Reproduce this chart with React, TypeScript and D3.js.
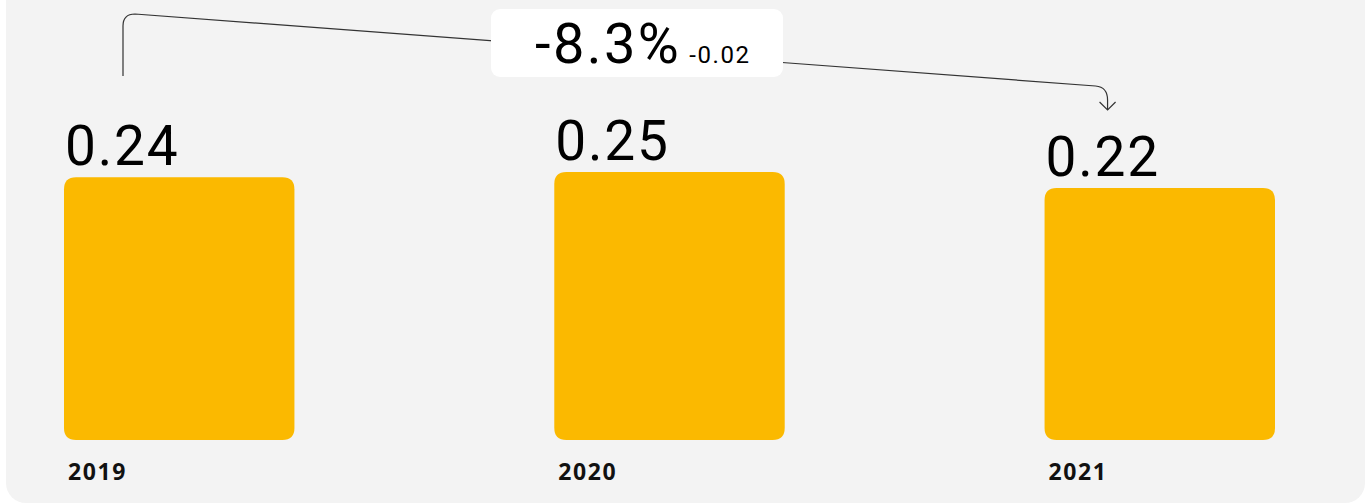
import React from "react";
import * as d3 from "d3";

const years = ["2019", "2020", "2021"];
const values = [0.24, 0.25, 0.22];
const valueLabels = ["0.24", "0.25", "0.22"];
const changePct = "-8.3%";
const changeAbs = "-0.02";

export default function App() {
  const W = 1371, H = 504;
  const x = d3.scaleBand<string>().domain(years).range([64, 1275]).paddingInner(0.53).paddingOuter(0);
  const y = d3.scaleLinear().domain([-0.25, 0.25]).range([440, 172]);
  const bw = x.bandwidth();
  const base = y(-0.25);

  const barPath = (x0: number, y0: number, w: number, h: number, r: number) =>
    `M${x0},${y0 + r}Q${x0},${y0} ${x0 + r},${y0}H${x0 + w - r}Q${x0 + w},${y0} ${x0 + w},${y0 + r}V${y0 + h - r}Q${x0 + w},${y0 + h} ${x0 + w - r},${y0 + h}H${x0 + r}Q${x0},${y0 + h} ${x0},${y0 + h - r}Z`;

  const sx = (x(years[0]) ?? 0) + 59;
  const ex = (x(years[2]) ?? 0) + 63;
  const topY = 14;
  const endY = 86;
  const tipY = 110;
  const path = d3.path();
  path.moveTo(sx, 76);
  path.lineTo(sx, topY + 12);
  path.quadraticCurveTo(sx, topY, sx + 12, topY);
  path.lineTo(ex - 12, endY);
  path.quadraticCurveTo(ex, endY + 1, ex, endY + 14);
  path.lineTo(ex, tipY);

  const font = "Roboto, 'Noto Sans', sans-serif";
  const yearFont = "'Noto Sans', 'Open Sans', sans-serif";

  return (
    <svg width={W} height={H} style={{ position: "absolute", left: 0, top: 0 }}>
      <rect x={6} y={-40} width={1359} height={543} rx={20} fill="#f3f3f3" />
      {years.map((yr, i) => (
        <g key={yr}>
          <path d={barPath(x(yr) ?? 0, y(values[i]), bw, base - y(values[i]), 12)} fill="#fbb900" />
          <text x={(x(yr) ?? 0) + 1} y={y(values[i]) - 12} fontFamily={font} fontSize={55} letterSpacing={1.8} fill="#000">
            {valueLabels[i]}
          </text>
          <text x={(x(yr) ?? 0) + 4} y={480} fontFamily={yearFont} fontSize={23} fontWeight={700} letterSpacing={1.6} fill="#111">
            {yr}
          </text>
        </g>
      ))}
      <path d={path.toString()} fill="none" stroke="#333" strokeWidth={1.2} />
      <path d={`M${ex - 8},${tipY - 8}L${ex},${tipY}L${ex + 8},${tipY - 8}`} fill="none" stroke="#333" strokeWidth={1.2} />
      <rect x={491} y={9} width={292} height={68} rx={9} fill="#fff" />
      <text x={535} y={63} fontFamily={font} fontSize={56} letterSpacing={2.4} fill="#000">
        {changePct}
        <tspan fontSize={24} dx={8} letterSpacing={1.6}>{changeAbs}</tspan>
      </text>
    </svg>
  );
}
